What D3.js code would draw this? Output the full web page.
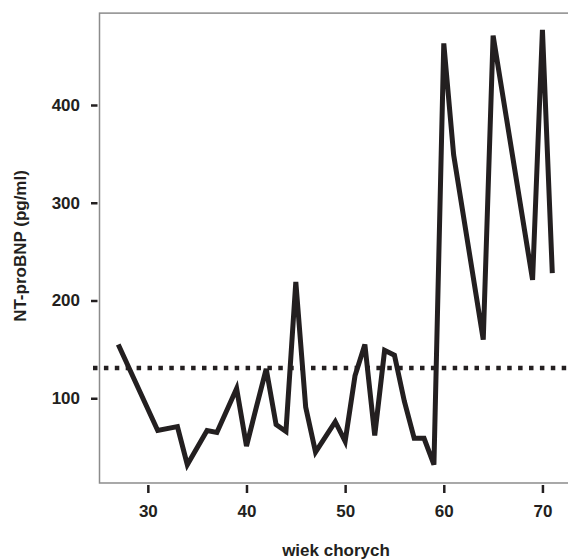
<!DOCTYPE html>
<html lang="pl">
<head>
	<meta charset="utf-8">
	<title>NT-proBNP vs wiek</title>
	<script src="https://d3js.org/d3.v7.min.js"></script>
	<style>
		body { margin: 0; background: #fff; }
		svg text { font-family: "Liberation Sans", Arial, Helvetica, sans-serif; font-weight: bold; fill: #231f20; }
	</style>
</head>
<body>
	<script>
		// wiek chorych (lata) i NT-proBNP (pg/ml)
		var ages   = [27, 31, 33, 34, 36, 37, 39, 40, 41, 42, 43, 44, 45, 46, 47, 49, 50,
		              51, 52, 53, 54, 55, 56, 57, 58, 59, 60, 61, 64, 65, 69, 70, 71];
		var values = [155, 67, 71, 32, 67, 65, 110, 51, 91, 130, 73, 66, 219, 91, 45, 76, 56,
		              123, 155, 62, 149, 144, 97, 59, 59, 32, 463, 349, 160, 471, 221, 477, 228];
		var xTicks = [30, 40, 50, 60, 70];
		var yTicks = [100, 200, 300, 400];
		var cutoff = 131; // linia przerywana

		var svgWidth = 568,
			svgHeight = 559;

		var svg = d3.select("body").append("svg")
			.attr("width", svgWidth)
			.attr("height", svgHeight);

		var x = d3.scaleLinear()
			.domain([25.1, 73])
			.range([99.5, 99.5 + 47.9 * 9.865]);

		var y = d3.scaleLinear()
			.domain([0, 400])
			.range([496, 105]);

		var yMin = 13.3, yMax = 494;

		// ramka wykresu
		svg.append("rect")
			.attr("x", x(25.1))
			.attr("y", y(yMax))
			.attr("width", x(73) - x(25.1))
			.attr("height", y(yMin) - y(yMax))
			.attr("fill", "none")
			.attr("stroke", "#8c8c8c")
			.attr("stroke-width", 1.5);

		// osie
		var yAxis = svg.append("g")
			.attr("transform", "translate(97.5,0)")
			.call(d3.axisLeft(y).tickValues(yTicks).tickSize(6.5).tickPadding(11));

		var xAxis = svg.append("g")
			.attr("transform", "translate(0,485)")
			.call(d3.axisBottom(x).tickValues(xTicks).tickSize(8).tickPadding(12));

		[xAxis, yAxis].forEach(function(a) {
			a.select(".domain").remove();
			a.selectAll(".tick line").attr("stroke", "#231f20").attr("stroke-width", 2.5);
			a.selectAll(".tick text").attr("font-size", 17);
		});

		// linia odcięcia
		svg.append("line")
			.attr("x1", 93)
			.attr("x2", svgWidth)
			.attr("y1", y(cutoff))
			.attr("y2", y(cutoff))
			.attr("stroke", "#231f20")
			.attr("stroke-width", 4.5)
			.attr("stroke-dasharray", "4.5,6.4");

		// dane
		var data = ages.map(function(a, i) { return {age: a, value: values[i]}; });

		var line = d3.line()
			.x(function(d) { return x(d.age); })
			.y(function(d) { return y(d.value); });

		svg.append("path")
			.datum(data)
			.attr("d", line)
			.attr("fill", "none")
			.attr("stroke", "#231f20")
			.attr("stroke-width", 5)
			.attr("stroke-linejoin", "miter")
			.attr("stroke-miterlimit", 4);

		// tytuły osi
		svg.append("text")
			.attr("x", 336)
			.attr("y", 556)
			.attr("text-anchor", "middle")
			.attr("font-size", 17)
			.text("wiek chorych");

		svg.append("text")
			.attr("transform", "translate(26,246) rotate(-90)")
			.attr("text-anchor", "middle")
			.attr("font-size", 17)
			.text("NT-proBNP (pg/ml)");
	</script>
</body>
</html>
